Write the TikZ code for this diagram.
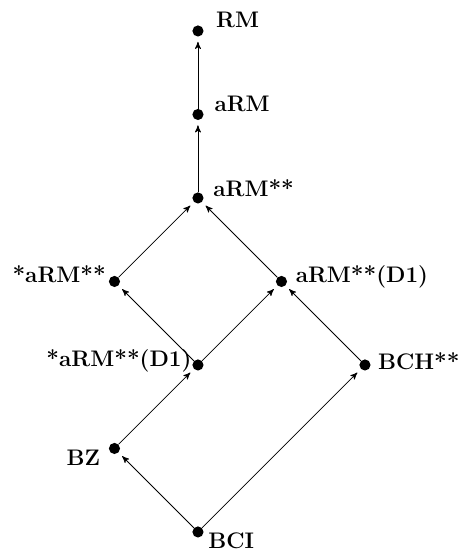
\documentclass[tikz,border=0pt]{standalone}
\usepackage{tikz}
\usetikzlibrary{calc,positioning,arrows}
\tikzset{
    >=stealth',
    font={\fontsize{11.5pt}{13}\selectfont\bfseries},
}
\begin{document}
\begin{tikzpicture}
[
    x=1.5cm, y=1.5cm,
    dot/.style={circle, fill=black, inner sep=0pt, minimum size=0.2cm},
    lbl/.style={inner sep=0pt},
    imp/.style={->, thin, shorten >=2.5pt},
]
\useasboundingbox (-2.371,-0.24) rectangle (3.15,6.371);
\node[dot] (bci) at (0,0){};
\node[dot] (bz) at (-1,1){};
\node[dot] (bch) at (2,2){};
\node[dot] (sarmd) at (0,2){};
\node[dot] (sarm) at (-1,3){};
\node[dot] (armd) at (1,3){};
\node[dot] (arms) at (0,4){};
\node[dot] (arm) at (0,5){};
\node[dot] (rm) at (0,6){};
% labels
\node[lbl, anchor=base west] (rm-t) at ([shift={(0.32cm,0.07cm)}]rm){RM};
\node[lbl, anchor=base west] (arm-t) at ([shift={(0.29cm,0.05cm)}]arm){aRM};
\node[lbl, anchor=base west] (arms-t) at ([shift={(0.27cm,0.02cm)}]arms){aRM**};
\node[lbl, anchor=base east] (sarm-t) at ([shift={(-0.15cm,-0.02cm)}]sarm){*aRM**};
\node[lbl, anchor=base west] (armd-t) at ([shift={(0.25cm,-0.02cm)}]armd){aRM**(D1)};
\node[lbl, anchor=base east] (sarmd-t) at ([shift={(-0.11cm,-0.02cm)}]sarmd){*aRM**(D1)};
\node[lbl, anchor=base west] (bch-t) at ([shift={(0.23cm,-0.09cm)}]bch){BCH**};
\node[lbl, anchor=base east] (bz-t) at ([shift={(-0.25cm,-0.31cm)}]bz){BZ};
\node[lbl, anchor=base west] (bci-t) at ([shift={(0.18cm,-0.30cm)}]bci){BCI};
% arrows
\draw[imp] (bci) -- (bz);
\draw[imp] (bci) -- (bch);
\draw[imp] (bz) -- (sarmd);
\draw[imp] (sarmd) -- (sarm);
\draw[imp] (sarmd) -- (armd);
\draw[imp] (bch) -- (armd);
\draw[imp] (sarm) -- (arms);
\draw[imp] (armd) -- (arms);
\draw[imp] (arms) -- (arm);
\draw[imp] (arm) -- (rm);
\end{tikzpicture}
\end{document}
